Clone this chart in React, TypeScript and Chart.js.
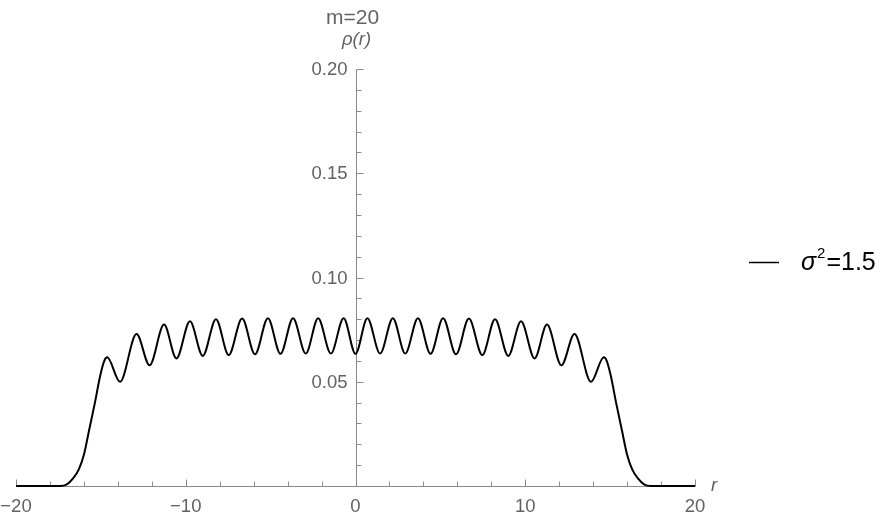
import React, { useEffect, useRef } from "react";
import { Chart, registerables } from "chart.js";

Chart.register(...registerables);

// r values and density rho(r)
const rValues = [
  -20, -18, -17.4, -17.0, -16.65, -16.3, -16.0, -15.7, -15.35, -15.05, -14.8,
  -14.63, -13.87, -12.9, -12.13, -11.28, -10.55, -9.75, -9.0, -8.22, -7.47,
  -6.68, -5.92, -5.16, -4.42, -3.68, -2.93, -2.2, -1.45, -0.7, 0,
  0.7, 1.45, 2.2, 2.93, 3.68, 4.42, 5.16, 5.92, 6.68, 7.47, 8.22, 9.0, 9.75,
  10.55, 11.28, 12.13, 12.9, 13.87, 14.63, 14.8, 15.05, 15.35, 15.7, 16.0,
  16.3, 16.65, 17.0, 17.4, 18, 20,
];
const rhoValues = [
  0, 0, 0, 0.0008, 0.0035, 0.008, 0.015, 0.0265, 0.04, 0.0525, 0.06,
  0.0617, 0.05, 0.0729, 0.0579, 0.0774, 0.0612, 0.079, 0.0624, 0.08, 0.0628,
  0.0803, 0.0632, 0.0805, 0.0634, 0.0805, 0.0635, 0.0805, 0.0635, 0.0805, 0.0634,
  0.0805, 0.0635, 0.0805, 0.0635, 0.0805, 0.0634, 0.0805, 0.0632, 0.0803, 0.0628,
  0.08, 0.0624, 0.079, 0.0612, 0.0774, 0.0579, 0.0729, 0.05, 0.0617, 0.06,
  0.0525, 0.04, 0.0265, 0.015, 0.008, 0.0035, 0.0008, 0, 0, 0,
];

const xMajorTicks = [-20, -10, 0, 10, 20];
const xTickLabels = ["\u221220", "\u221210", "0", "10", "20"];
const xMinorTicks = [-18, -16, -14, -12, -8, -6, -4, -2, 2, 4, 6, 8, 12, 14, 16, 18];
const yMajorTicks = [0.05, 0.1, 0.15, 0.2];
const yTickLabels = ["0.05", "0.10", "0.15", "0.20"];
const yMinorTicks = [
  0.01, 0.02, 0.03, 0.04, 0.06, 0.07, 0.08, 0.09, 0.11, 0.12, 0.13, 0.14,
  0.16, 0.17, 0.18, 0.19,
];
const titleText = "m=20";
const yAxisLabel = "\u03c1(r)";
const xAxisLabel = "r";
const seriesName = { symbol: "\u03c3", sup: "2", rest: "=1.5" };

const FONT = "'Liberation Sans', Arial, sans-serif";
const AXIS_COLOR = "#8a8a8a";
const TEXT_COLOR = "#626262";

const axesPlugin = {
  id: "mmaAxes",
  beforeDatasetsDraw(chart: any) {
    const { ctx } = chart;
    const xs = chart.scales.x;
    const ys = chart.scales.y;
    const x0 = Math.round(xs.getPixelForValue(0)) + 0.5;
    const y0 = Math.round(ys.getPixelForValue(0)) + 0.5;
    ctx.save();
    ctx.strokeStyle = AXIS_COLOR;
    ctx.lineWidth = 1;
    ctx.beginPath();
    ctx.moveTo(Math.round(xs.getPixelForValue(-20)) + 0.5, y0);
    ctx.lineTo(Math.round(xs.getPixelForValue(20)) + 0.5, y0);
    ctx.moveTo(x0, y0);
    ctx.lineTo(x0, Math.round(ys.getPixelForValue(0.2)) + 0.5);
    xMajorTicks.forEach((v) => {
      if (v === 0) return;
      const px = Math.round(xs.getPixelForValue(v)) + 0.5;
      ctx.moveTo(px, y0);
      ctx.lineTo(px, y0 - 7);
    });
    xMinorTicks.forEach((v) => {
      const px = Math.round(xs.getPixelForValue(v)) + 0.5;
      ctx.moveTo(px, y0);
      ctx.lineTo(px, y0 - 5);
    });
    yMajorTicks.forEach((v) => {
      const py = Math.round(ys.getPixelForValue(v)) + 0.5;
      ctx.moveTo(x0, py);
      ctx.lineTo(x0 + 7, py);
    });
    yMinorTicks.forEach((v) => {
      const py = Math.round(ys.getPixelForValue(v)) + 0.5;
      ctx.moveTo(x0, py);
      ctx.lineTo(x0 + 5, py);
    });
    ctx.stroke();
    ctx.restore();
  },
  afterDraw(chart: any) {
    const { ctx } = chart;
    const xs = chart.scales.x;
    const ys = chart.scales.y;
    const x0 = xs.getPixelForValue(0);
    const y0 = ys.getPixelForValue(0);
    ctx.save();
    ctx.fillStyle = TEXT_COLOR;
    ctx.font = `18.5px ${FONT}`;
    ctx.textAlign = "center";
    ctx.textBaseline = "alphabetic";
    xMajorTicks.forEach((v, i) => {
      ctx.fillText(xTickLabels[i], xs.getPixelForValue(v), y0 + 26);
    });
    ctx.textAlign = "right";
    ctx.textBaseline = "middle";
    yMajorTicks.forEach((v, i) => {
      ctx.fillText(yTickLabels[i], x0 - 8, ys.getPixelForValue(v) + 1);
    });
    ctx.font = `italic 18.5px ${FONT}`;
    ctx.textAlign = "left";
    ctx.textBaseline = "alphabetic";
    ctx.fillText(xAxisLabel, xs.getPixelForValue(20) + 16, y0 + 5);
    ctx.textAlign = "center";
    ctx.fillText(yAxisLabel, x0 + 1, 45);
    ctx.font = `21px ${FONT}`;
    ctx.fillText(titleText, x0 - 3, 24);
    // legend
    const ly = 262.5;
    ctx.strokeStyle = "#000000";
    ctx.lineWidth = 1.5;
    ctx.beginPath();
    ctx.moveTo(749, ly);
    ctx.lineTo(779, ly);
    ctx.stroke();
    ctx.fillStyle = "#000000";
    ctx.textAlign = "left";
    let tx = 801;
    ctx.font = `italic 25px ${FONT}`;
    ctx.fillText(seriesName.symbol, tx, 270);
    tx += ctx.measureText(seriesName.symbol).width + 1;
    ctx.font = `15px ${FONT}`;
    ctx.fillText(seriesName.sup, tx, 258);
    tx += ctx.measureText(seriesName.sup).width + 1;
    ctx.font = `25px ${FONT}`;
    ctx.fillText(seriesName.rest, tx, 270);
    ctx.restore();
  },
};

export default function App() {
  const canvasRef = useRef<HTMLCanvasElement | null>(null);

  useEffect(() => {
    if (!canvasRef.current) return;
    const chart = new Chart(canvasRef.current, {
      type: "line",
      data: {
        datasets: [
          {
            label: "\u03c3\u00b2=1.5",
            data: rValues.map((x, i) => ({ x, y: rhoValues[i] })),
            borderColor: "#000000",
            borderWidth: 2,
            pointRadius: 0,
            fill: false,
            cubicInterpolationMode: "monotone",
            clip: false as any,
          },
        ],
      },
      options: {
        responsive: false,
        animation: false,
        devicePixelRatio: 1,
        layout: { padding: { left: 16, right: 199, top: 69, bottom: 36 } },
        scales: {
          x: { type: "linear", min: -20, max: 20, display: false },
          y: { type: "linear", min: 0, max: 0.2, display: false },
        },
        plugins: {
          legend: { display: false },
          tooltip: { enabled: false },
          title: { display: false },
        },
      },
      plugins: [axesPlugin],
    });
    return () => chart.destroy();
  }, []);

  return (
    <div style={{ position: "absolute", left: 0, top: 0, width: 894, height: 522, background: "#fff" }}>
      <canvas ref={canvasRef} width={894} height={522} />
    </div>
  );
}
